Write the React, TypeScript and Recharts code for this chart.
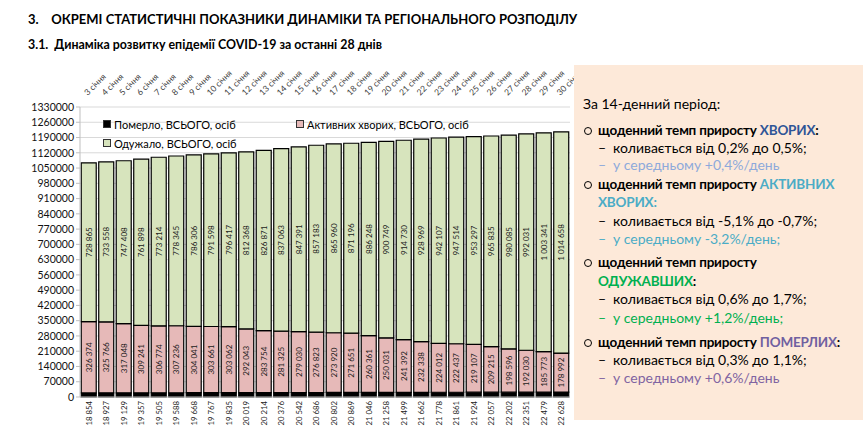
import { Bar, BarChart, CartesianGrid, LabelList, Legend, XAxis, YAxis } from "recharts";

const dates = [
  "3 січня", "4 січня", "5 січня", "6 січня", "7 січня", "8 січня", "9 січня",
  "10 січня", "11 січня", "12 січня", "13 січня", "14 січня", "15 січня", "16 січня",
  "17 січня", "18 січня", "19 січня", "20 січня", "21 січня", "22 січня", "23 січня",
  "24 січня", "25 січня", "26 січня", "27 січня", "28 січня", "29 січня", "30 січня",
];

const died = [
  18854, 18927, 19129, 19357, 19505, 19588, 19668, 19767, 19835, 20019, 20214, 20376, 20542, 20686,
  20802, 20869, 21046, 21258, 21499, 21662, 21778, 21861, 21924, 22057, 22202, 22351, 22479, 22628,
];

const active = [
  326374, 325766, 317048, 309241, 306774, 307236, 304041, 303661, 303062, 292043, 283754, 281325, 279030, 276823,
  273920, 271651, 260361, 250031, 241392, 232338, 224012, 222437, 219107, 209215, 198596, 192030, 185773, 178992,
];

const recovered = [
  728865, 733558, 747408, 761898, 773214, 778345, 786306, 791598, 796417, 812368, 826871, 837063, 847391, 857183,
  865960, 871196, 886248, 900749, 914730, 928969, 942107, 947514, 953297, 965835, 980085, 992031, 1003341, 1014658,
];

const yTicks = [
  0, 70000, 140000, 210000, 280000, 350000, 420000, 490000, 560000, 630000, 700000,
  770000, 840000, 910000, 980000, 1050000, 1120000, 1190000, 1260000, 1330000,
];

const rows = dates.map((date, i) => ({
  date,
  died: died[i],
  active: active[i],
  recovered: recovered[i],
}));

const FONT = "Lato, 'Noto Sans', sans-serif";
const PINK = "#E6B9B8";
const GREEN = "#D7E4BD";

const fmt = (v: number) => String(v).replace(/\B(?=(\d{3})+(?!\d))/g, " ");

function DateTick(props: any) {
  const { x, y, payload } = props;
  const ty = y - 3;
  return (
    <text x={x - 1} y={ty} transform={`rotate(-45 ${x - 1} ${ty})`} fontSize={8.5} fill="#404040" fontFamily={FONT}>
      {payload.value}
    </text>
  );
}

function DiedTick(props: any) {
  const { x, y, index } = props;
  const ty = y - 4;
  return (
    <text
      x={x}
      y={ty}
      transform={`rotate(-90 ${x} ${ty})`}
      textAnchor="end"
      dominantBaseline="central"
      fontSize={7.8}
      fill="#1a1a1a"
      fontFamily={FONT}
    >
      {fmt(died[index])}
    </text>
  );
}

// value inside a bar segment, rotated to read bottom-up
function ValueLabel(props: any) {
  const vb = props.viewBox ?? props;
  const cx = vb.x + vb.width / 2;
  const cy = vb.y + vb.height / 2;
  return (
    <text
      x={cx}
      y={cy}
      transform={`rotate(-90 ${cx} ${cy})`}
      textAnchor="middle"
      dominantBaseline="central"
      fontSize={8}
      fill="#1a1a1a"
      fontFamily={FONT}
    >
      {fmt(Number(props.value))}
    </text>
  );
}

const legendItems = [
  { label: "Померло, ВСЬОГО, осіб", color: "#000" },
  { label: "Активних хворих, ВСЬОГО, осіб", color: PINK },
  { label: "Одужало, ВСЬОГО, осіб", color: GREEN },
];

function ChartLegend() {
  return (
    <div style={{ display: "grid", gridTemplateColumns: "193px auto", rowGap: 3, fontFamily: FONT, fontSize: 11 }}>
      {legendItems.map((it) => (
        <div key={it.label} style={{ display: "flex", alignItems: "center", height: 16 }}>
          <span style={{ width: 6, height: 6, background: it.color, border: "1px solid #333", marginRight: 3 }} />
          {it.label}
        </div>
      ))}
    </div>
  );
}

function Bullet() {
  return (
    <span
      style={{
        position: "absolute",
        left: -14,
        top: 6,
        width: 6,
        height: 6,
        border: "1.3px solid #000",
        borderRadius: "50%",
      }}
    />
  );
}

function Line({ y, x = 598, children, color = "#000", bold = false, bullet = false, dash = false }: any) {
  return (
    <div
      style={{
        position: "absolute",
        left: x - 574,
        top: y - 65 - 9,
        height: 18,
        lineHeight: "18px",
        whiteSpace: "nowrap",
        color,
        fontWeight: bold ? 700 : 400,
        fontSize: bold ? 13.5 : 14,
        letterSpacing: bold ? -0.2 : 0,
      }}
    >
      {bullet && <Bullet />}
      {dash && <span style={{ display: "inline-block", width: 15 }}>–</span>}
      {children}
    </div>
  );
}

export default function App() {
  return (
    <div style={{ position: "absolute", left: 0, top: 0, width: 867, height: 432, background: "#fff", fontFamily: FONT }}>
      <div style={{ position: "absolute", left: 28, top: 11, fontSize: 13, fontWeight: 700, whiteSpace: "nowrap" }}>
        3.&nbsp;&nbsp;&nbsp; ОКРЕМІ СТАТИСТИЧНІ ПОКАЗНИКИ ДИНАМІКИ ТА РЕГІОНАЛЬНОГО РОЗПОДІЛУ
      </div>
      <div style={{ position: "absolute", left: 28, top: 37, fontSize: 12.4, fontWeight: 700, whiteSpace: "nowrap" }}>
        3.1.&nbsp;&nbsp;Динаміка розвитку епідемії COVID-19 за останні 28 днів
      </div>

      <div style={{ position: "absolute", left: 0, top: 0 }}>
        <BarChart
          width={575}
          height={432}
          data={rows}
          margin={{ top: 67, right: 5, bottom: 0, left: 2 }}
          barCategoryGap="7%"
        >
          <CartesianGrid vertical={false} stroke="#D9D9D9" xAxisId="bottom" />
          <XAxis
            xAxisId="top"
            orientation="top"
            dataKey="date"
            height={40}
            interval={0}
            axisLine={false}
            tickLine={false}
            tick={<DateTick />}
          />
          <XAxis
            xAxisId="bottom"
            dataKey="date"
            height={35}
            interval={0}
            stroke="#BFBFBF"
            tickLine={false}
            tick={<DiedTick />}
          />
          <YAxis
            width={78}
            domain={[0, 1330000]}
            ticks={yTicks}
            interval={0}
            tickSize={4}
            tickMargin={2}
            stroke="#BFBFBF"
            tick={{ fill: "#111", fontSize: 10.5, fontFamily: FONT }}
          />
          <Legend
            layout="horizontal"
            verticalAlign="middle"
            align="center"
            content={<ChartLegend />}
            wrapperStyle={{ left: 103, top: 116, width: 420, height: 40 }}
          />
          <Bar xAxisId="bottom" dataKey="died" stackId="a" fill="#000" stroke="#000" strokeWidth={1.2} isAnimationActive={false} />
          <Bar xAxisId="bottom" dataKey="active" stackId="a" fill={PINK} stroke="#000" strokeWidth={1.2} isAnimationActive={false}>
            <LabelList dataKey="active" content={<ValueLabel />} />
          </Bar>
          <Bar xAxisId="bottom" dataKey="recovered" stackId="a" fill={GREEN} stroke="#000" strokeWidth={1.2} isAnimationActive={false}>
            <LabelList dataKey="recovered" content={<ValueLabel />} />
          </Bar>
        </BarChart>
      </div>

      <div style={{ position: "absolute", left: 574, top: 65, width: 289, height: 355, background: "#FDE9D9", fontSize: 14 }}>
        <Line y={104} x={583}>За 14-денний період:</Line>
        <Line y={130} bold bullet>
          щоденний темп приросту <span style={{ color: "#2F5597" }}>ХВОРИХ</span>:
        </Line>
        <Line y={148} dash>коливається від 0,2% до 0,5%;</Line>
        <Line y={165} dash color="#8EA9DB">у середньому +0,4%/день</Line>
        <Line y={184} bold bullet>
          щоденний темп приросту <span style={{ color: "#4BACC6" }}>АКТИВНИХ</span>
        </Line>
        <Line y={202} bold color="#4BACC6">ХВОРИХ:</Line>
        <Line y={221} dash>коливається від -5,1% до -0,7%;</Line>
        <Line y={239} dash color="#4BACC6">у середньому -3,2%/день;</Line>
        <Line y={262} bold bullet>щоденний темп приросту</Line>
        <Line y={281} bold>
          <span style={{ color: "#00B050" }}>ОДУЖАВШИХ</span>:
        </Line>
        <Line y={299} dash>коливається від 0,6% до 1,7%;</Line>
        <Line y={318} dash color="#00B050">у середньому +1,2%/день;</Line>
        <Line y={342} bold bullet>
          щоденний темп приросту <span style={{ color: "#7060A0" }}>ПОМЕРЛИХ</span>:
        </Line>
        <Line y={360} dash>коливається від 0,3% до 1,1%;</Line>
        <Line y={378} dash color="#8064A2">у середньому +0,6%/день</Line>
      </div>
    </div>
  );
}
